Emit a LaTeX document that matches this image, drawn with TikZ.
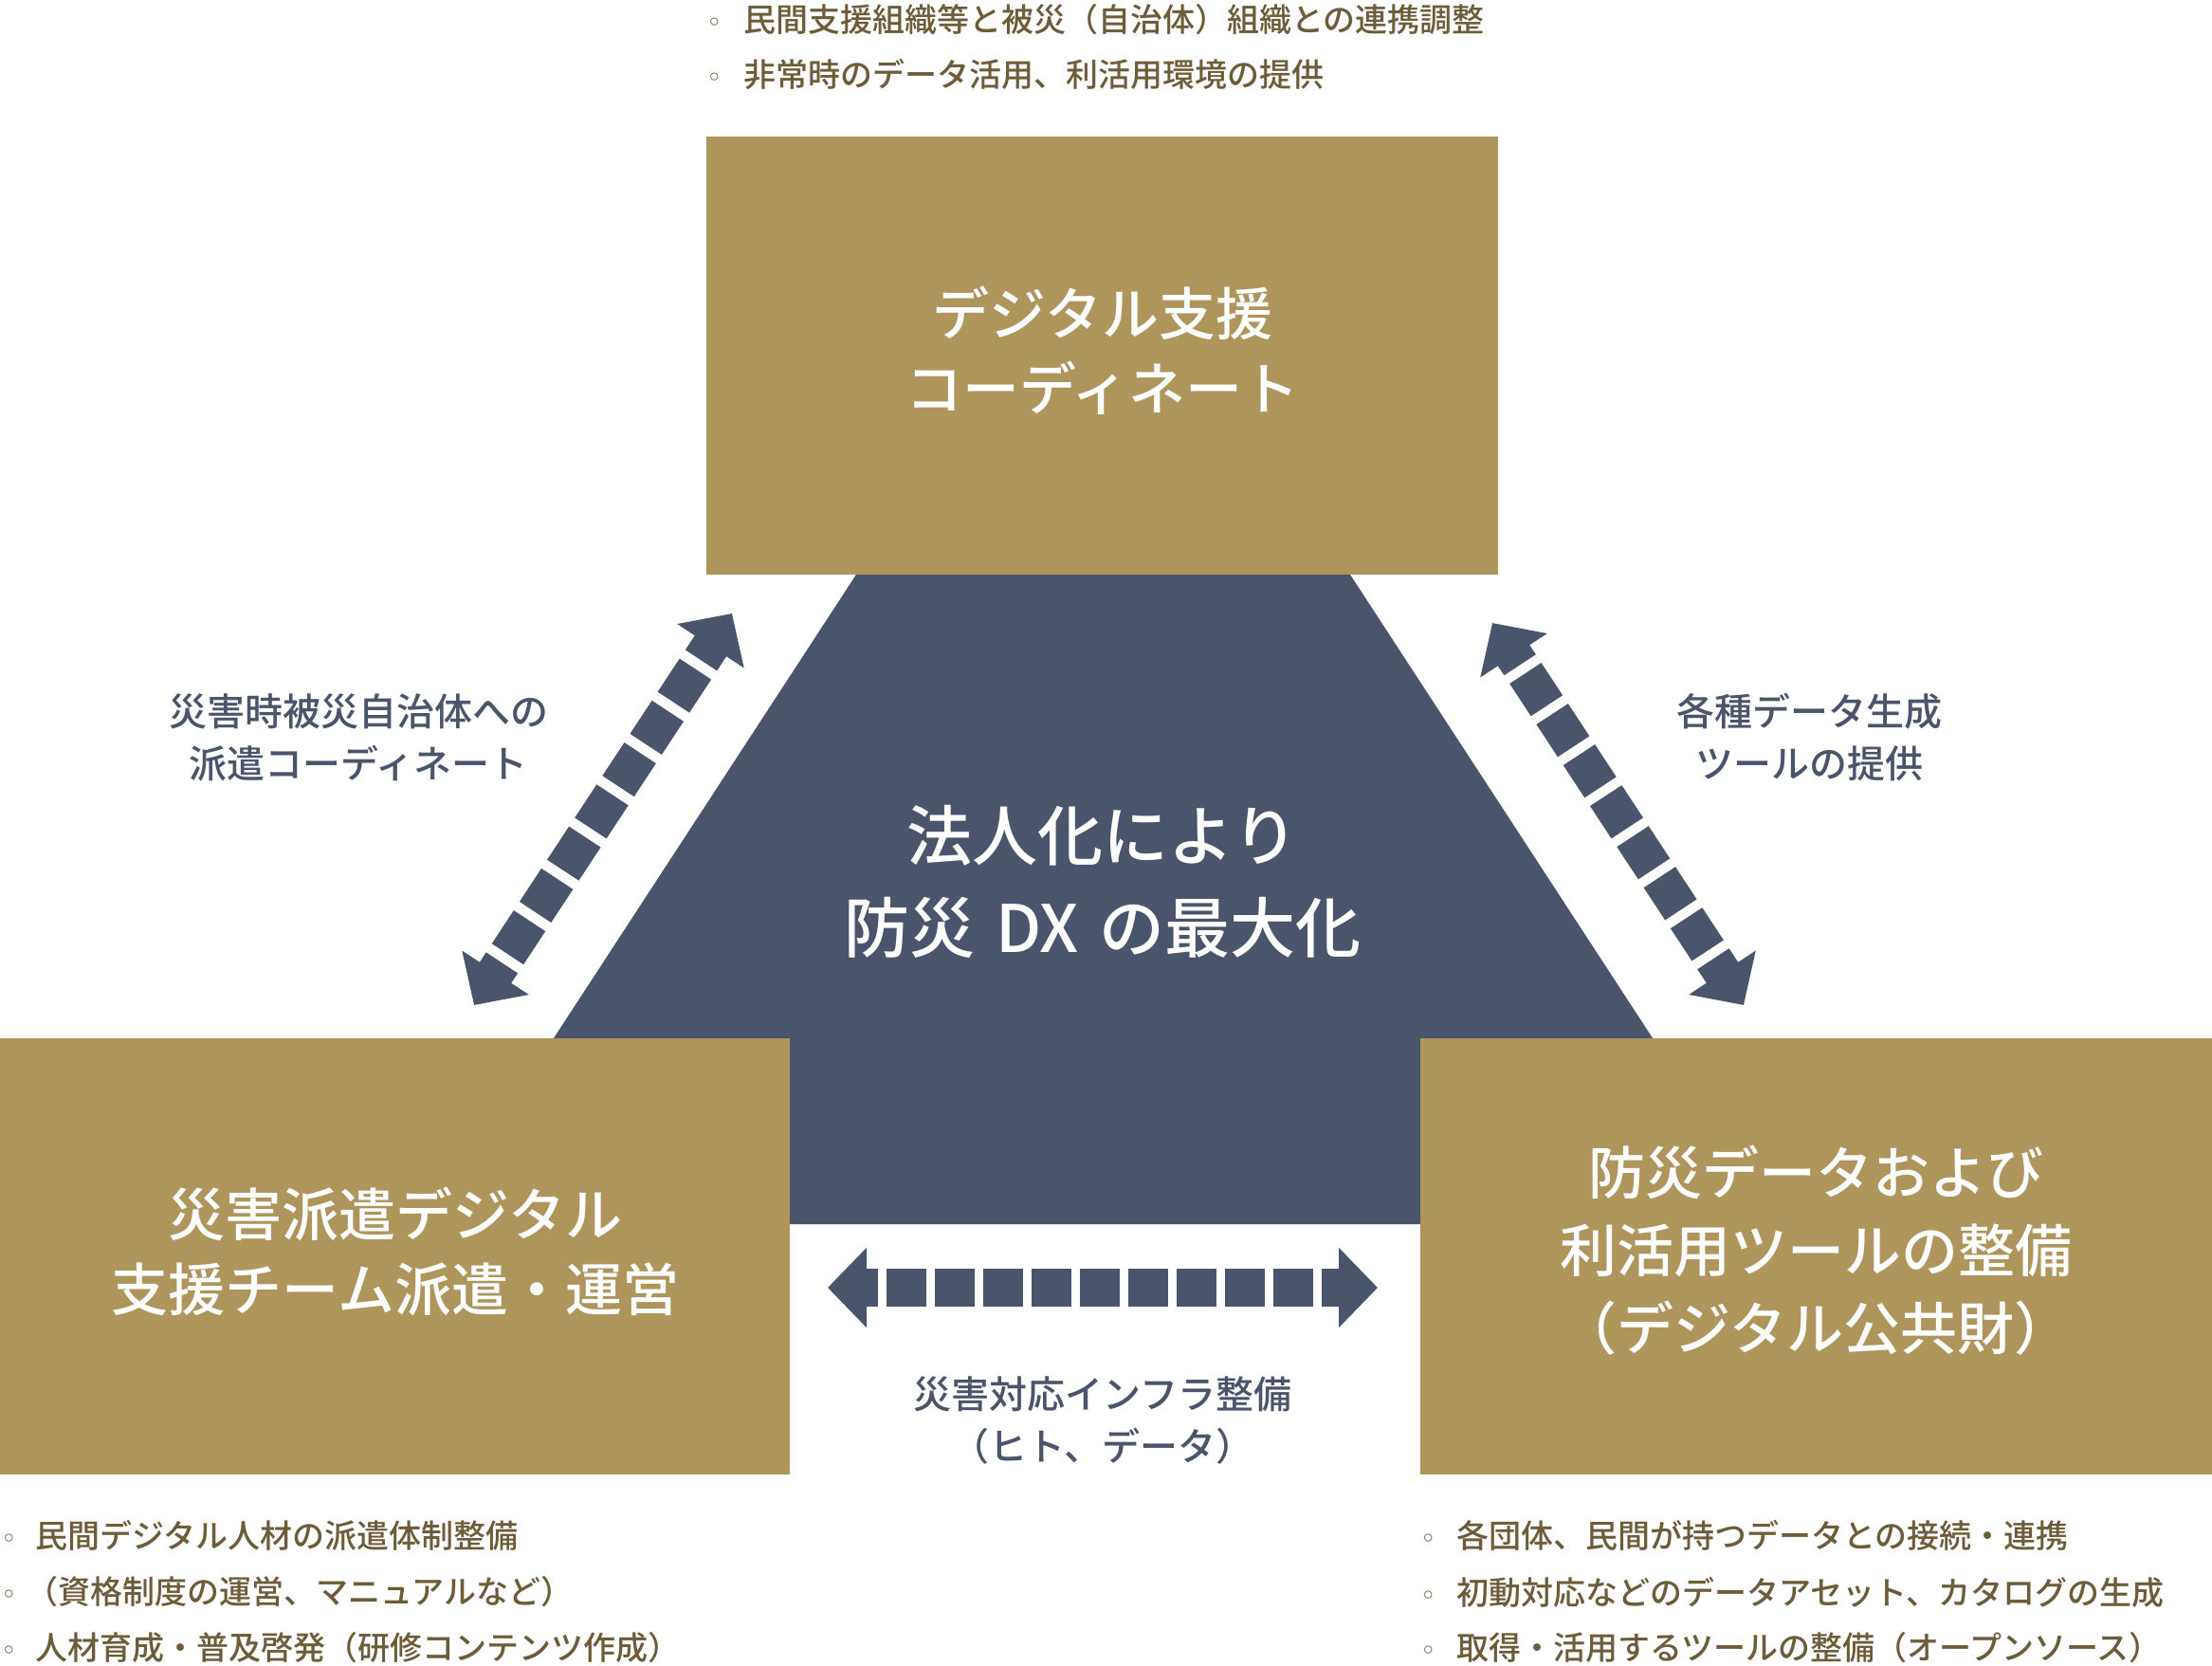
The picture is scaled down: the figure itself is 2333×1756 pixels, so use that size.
\documentclass[tikz,border=0pt]{standalone}
\usepackage{fontspec}
\usetikzlibrary{arrows.meta}
\IfFontExistsTF{Noto Sans CJK JP Medium}
  {\newfontfamily\jpm{Noto Sans CJK JP Medium}}
  {\newfontfamily\jpm{Noto Sans CJK JP}[FakeBold=1.2]}
\newfontfamily\dv{DejaVu Sans}
\definecolor{gold}{RGB}{173,149,92}
\definecolor{slate}{RGB}{74,85,107}
\definecolor{brownt}{RGB}{108,92,58}
\newcommand{\bulmark}{{\dv\fontsize{28}{28}\selectfont ◦}}
\tikzset{
  goldbox/.style={fill=gold, draw=none, anchor=north west, inner sep=0pt},
  titletxt/.style={text=white, align=center, inner sep=0pt, font=\jpm\fontsize{60}{79}\selectfont},
  centertxt/.style={text=white, align=center, inner sep=0pt, font=\jpm\fontsize{69}{97}\selectfont},
  lbltxt/.style={text=slate, align=center, inner sep=0pt, font=\jpm\fontsize{40}{55}\selectfont},
  listtxt/.style={text=brownt, anchor=west, inner sep=0pt, font=\jpm\fontsize{34}{34}\selectfont},
  dasharrow/.style={draw=slate, line width=40pt,
    arrows={Triangle[width=82pt,length=41pt]-Triangle[width=82pt,length=41pt]}}
}
\begin{document}
\begin{tikzpicture}[x=1pt,y=-1pt]
\useasboundingbox (0,0) rectangle (2333,1756);
% central dark trapezoid
\fill[slate] (913.4,590) -- (1413.6,590) -- (1871,1291) -- (456,1291) -- cycle;
% boxes
\node[goldbox, minimum width=835pt, minimum height=462pt] (topbox) at (745,144) {};
\node[goldbox, minimum width=833pt, minimum height=460pt] (blbox) at (0,1095) {};
\node[goldbox, minimum width=835pt, minimum height=460pt] (brbox) at (1498,1095) {};
% titles
\node[titletxt] (toptitle) at (1163,369.5) {デジタル支援\\コーディネート};
\node[titletxt] (bltitle) at (417,1319.5) {災害派遣デジタル\\支援チーム派遣・運営};
\node[titletxt, font=\jpm\fontsize{60}{82}\selectfont] (brtitle) at (1915,1318.5) {防災データおよび\\利活用ツールの整備\\（デジタル公共財）};
\node[centertxt] (centertitle) at (1163,929.5) {法人化により\\防災\hspace{6pt} DX\hspace{6pt} の最大化};
% arrows
\coordinate (la1) at (772,647);
\coordinate (la2) at (500,1060);
\coordinate (ra1) at (1574,657);
\coordinate (ra2) at (1839,1060);
\coordinate (ha1) at (873,1358);
\coordinate (ha2) at (1453,1358);
\draw[dasharrow, dash pattern=on 42pt off 11pt, dash phase=27pt] (la2) -- (la1);
\draw[dasharrow, dash pattern=on 41pt off 10.5pt, dash phase=26.5pt] (ra1) -- (ra2);
\draw[dasharrow, dash pattern=on 42pt off 9pt, dash phase=27pt] (ha1) -- (ha2);
% arrow labels
\node[lbltxt] (leftlbl) at (378,777.5) {災害時被災自治体への\\派遣コーディネート};
\node[lbltxt] (rightlbl) at (1908,777.5) {各種データ生成\\ツールの提供};
\node[lbltxt] (bottomlbl) at (1163,1498) {災害対応インフラ整備\\（ヒト、データ）};
% top bullet list
\node[listtxt] (t1) at (745,21) {\makebox[39pt][l]{\bulmark}民間支援組織等と被災（自治体）組織との連携調整};
\node[listtxt] (t2) at (745,79) {\makebox[39pt][l]{\bulmark}非常時のデータ活用、利活用環境の提供};
% bottom-left list
\node[listtxt] (l1) at (1,1619) {\makebox[36pt][l]{\bulmark}民間デジタル人材の派遣体制整備};
\node[listtxt] (l2) at (1,1679) {\makebox[26pt][l]{\bulmark}（資格制度の運営、マニュアルなど）};
\node[listtxt] (l3) at (1,1738) {\makebox[36pt][l]{\bulmark}人材育成・普及啓発（研修コンテンツ作成）};
% bottom-right list
\node[listtxt] (r1) at (1498,1619) {\makebox[38pt][l]{\bulmark}各団体、民間が持つデータとの接続・連携};
\node[listtxt] (r2) at (1498,1679) {\makebox[38pt][l]{\bulmark}初動対応などのデータアセット、カタログの生成};
\node[listtxt] (r3) at (1498,1738) {\makebox[38pt][l]{\bulmark}取得・活用するツールの整備（オープンソース）};
\end{tikzpicture}
\end{document}
